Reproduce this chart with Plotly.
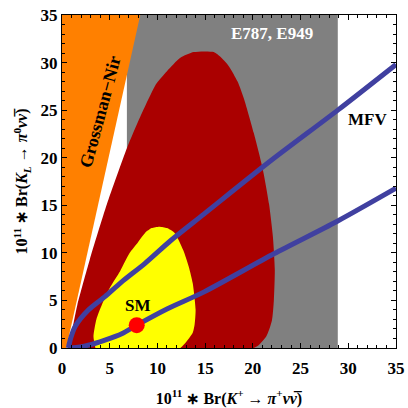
import plotly.graph_objects as go

# ---- data ----
e949_x = [6.8, 28.9, 28.9, 6.8]
e949_y = [0, 0, 35, 35]

gn_x = [0, 0.45, 8.2, 0]
gn_y = [0, 0, 35, 35]

red_x = [0.7, 1.6, 2.9, 4.7, 6.8, 8.2, 9.9, 11.0, 12.4, 13.8, 15.9, 16.7, 17.5, 18.4, 19.1, 20.1,
         21.0, 21.7, 22.1, 22.3, 22.2, 22.0, 21.4, 20.5, 20.1]
red_y = [0, 4.5, 9.25, 15.1, 21.0, 24.3, 27.8, 29.1, 30.5, 31.1, 31.1, 30.5, 29.6, 28.0, 26.1, 22.6,
         19.0, 15.1, 11.7, 8.2, 5.0, 2.9, 1.2, 0.2, 0]

yel_x = [3.5, 3.3, 3.6, 4.2, 5.0, 6.1, 7.1, 7.8, 8.7, 9.4, 10.2, 11.0, 11.8, 12.7, 13.3, 13.7,
         14.0, 13.9, 13.7, 12.9, 12.4]
yel_y = [0, 1.2, 3.0, 4.6, 6.3, 8.1, 10.0, 10.9, 12.1, 12.6, 12.75, 12.6, 12.1, 10.3, 8.5, 6.8,
         4.0, 2.5, 1.6, 0.5, 0]

mfv_up_x = [0.66, 0.9, 1.36, 2.76, 4.5, 6.2, 8.7, 11.4, 14.9, 21.9, 28.9, 35]
mfv_up_y = [0, 1.0, 2.24, 4.0, 5.4, 6.9, 8.9, 11.3, 14.1, 19.7, 25.0, 29.8]

mfv_lo_x = [0.66, 1.5, 2.76, 4.5, 6.26, 7.83, 11.0, 14.9, 22.2, 28.8, 35]
mfv_lo_y = [0, 0.05, 0.3, 0.84, 1.5, 2.4, 4.1, 5.9, 9.9, 13.3, 16.8]

sm_x = [7.83]
sm_y = [2.4]

ticks = [0, 5, 10, 15, 20, 25, 30, 35]

FONT = "Liberation Serif"

fig = go.Figure()
fig.add_trace(go.Scatter(x=e949_x, y=e949_y, fill="toself", mode="lines",
                         fillcolor="#808080", line=dict(width=0, color="#808080"), hoverinfo="skip"))
fig.add_trace(go.Scatter(x=gn_x, y=gn_y, fill="toself", mode="lines",
                         fillcolor="#ff8000", line=dict(width=0, color="#ff8000"), hoverinfo="skip"))
fig.add_trace(go.Scatter(x=red_x, y=red_y, fill="toself", mode="lines",
                         fillcolor="#aa0000", line=dict(width=0, color="#aa0000", shape="spline", smoothing=0.6),
                         hoverinfo="skip"))
fig.add_trace(go.Scatter(x=yel_x, y=yel_y, fill="toself", mode="lines",
                         fillcolor="#ffff00", line=dict(width=0, color="#ffff00", shape="spline", smoothing=0.6),
                         hoverinfo="skip"))
for xs, ys in [(mfv_up_x, mfv_up_y), (mfv_lo_x, mfv_lo_y)]:
    fig.add_trace(go.Scatter(x=xs, y=ys, mode="lines",
                             line=dict(width=5, color="#4040a0", shape="spline", smoothing=0.8),
                             hoverinfo="skip"))
fig.add_trace(go.Scatter(x=sm_x, y=sm_y, mode="markers",
                         marker=dict(size=16, color="#ff0000", line=dict(width=0)), hoverinfo="skip"))

ann_font = dict(family=FONT, size=17, color="black", weight="bold")
fig.add_annotation(x=22.0, y=33.1, text="E787, E949", showarrow=False,
                   font=dict(family=FONT, size=17, color="white", weight="bold"))
fig.add_annotation(x=32.0, y=24.0, text="MFV", showarrow=False, font=ann_font)
fig.add_annotation(x=8.0, y=4.5, text="SM", showarrow=False, font=ann_font)
fig.add_annotation(x=4.0, y=24.8, text="Grossman\u2212Nir", showarrow=False, textangle=-75,
                   font=dict(family=FONT, size=18, color="black", weight="bold"))

axis_common = dict(range=[0, 35], tickvals=ticks, ticks="inside", ticklen=5, tickwidth=1,
                   tickcolor="black", showline=True, linecolor="black", linewidth=1,
                   mirror="allticks", showgrid=False, zeroline=False, automargin=False,
                   ticklabeloverflow="allow",
                   tickfont=dict(family=FONT, size=17, color="black", weight="bold"),
                   minor=dict(dtick=1, ticks="inside", ticklen=3, tickcolor="black", tickwidth=1,
                              showgrid=False))

fig.update_layout(
    width=408, height=408,
    margin=dict(l=62, r=12, t=15, b=60),
    paper_bgcolor="white", plot_bgcolor="white",
    showlegend=False, hovermode=False,
    xaxis=dict(**axis_common, ticklabelstandoff=5,
               title=dict(text="<b>10<sup>11</sup> \u2217 Br(<i>K</i><sup>+</sup> \u2192 <i>\u03c0</i><sup>+</sup><i>\u03bd\u03bd\u0305</i>)</b>",
                          font=dict(family=FONT, size=16, color="black"), standoff=22)),
    yaxis=dict(**axis_common,
               title=dict(text="<b>10<sup>11</sup> \u2217 Br(<i>K</i><sub><i>L</i></sub> \u2192 <i>\u03c0</i><sup>0</sup><i>\u03bd\u03bd\u0305</i>)</b>",
                          font=dict(family=FONT, size=16, color="black"), standoff=8)),
)

# remove the browser's default 8px body margin so the 408x408 figure fills the window
fig.write_html("out.html", config={"displayModeBar": False},
               post_script="document.body.style.margin='0px';document.body.style.overflow='hidden';")
